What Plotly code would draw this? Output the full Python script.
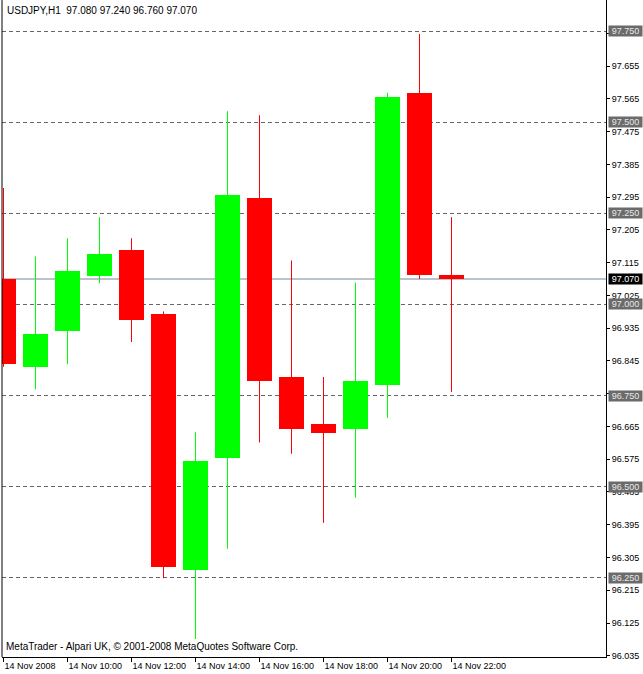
import plotly.graph_objects as go

# ---- data ----
times = ["08:00", "09:00", "10:00", "11:00", "12:00", "13:00", "14:00", "15:00",
         "16:00", "17:00", "18:00", "19:00", "20:00", "21:00", "22:00"]
opens = [97.071, 96.828, 96.928, 97.077, 97.151, 96.973, 96.270, 96.579,
         97.292, 96.801, 96.672, 96.659, 96.779, 97.582, 97.080]
highs = [97.320, 97.132, 97.182, 97.240, 97.182, 96.981, 96.649, 97.531,
         97.520, 97.121, 96.801, 97.060, 97.582, 97.743, 97.240]
lows = [96.829, 96.767, 96.836, 97.058, 96.897, 96.248, 96.081, 96.329,
        96.621, 96.590, 96.400, 96.469, 96.688, 97.070, 96.760]
closes = [96.837, 96.919, 97.091, 97.140, 96.958, 96.279, 96.571, 97.300,
          96.789, 96.659, 96.648, 96.790, 97.571, 97.080, 97.070]

xtick_pos = [0, 2, 4, 6, 8, 10, 12, 14]
xtick_text = ["14 Nov 2008", "14 Nov 10:00", "14 Nov 12:00", "14 Nov 14:00",
              "14 Nov 16:00", "14 Nov 18:00", "14 Nov 20:00", "14 Nov 22:00"]
ytick_vals = [97.745, 97.655, 97.565, 97.475, 97.385, 97.295, 97.205, 97.115,
              97.025, 96.935, 96.845, 96.755, 96.665, 96.575, 96.485, 96.395,
              96.305, 96.215, 96.125, 96.035]
levels = [97.75, 97.50, 97.25, 97.00, 96.75, 96.50, 96.25]
level_text = ["97.750", "97.500", "97.250", "97.000", "96.750", "96.500", "96.250"]
current_price = 97.070
title_text = "USDJPY,H1&nbsp;&nbsp;97.080 97.240 96.760 97.070"
footer_text = "MetaTrader - Alpari UK, © 2001-2008 MetaQuotes Software Corp."

GREEN = "#00FF00"
RED = "#FF0000"
FONT = "Liberation Sans"

x = list(range(len(times)))
up = [c >= o for o, c in zip(opens, closes)]

fig = go.Figure()

# wicks
for is_up, col in [(True, GREEN), (False, RED)]:
    wx, wy = [], []
    for i in x:
        if up[i] == is_up:
            wx += [i, i, None]
            wy += [lows[i], highs[i], None]
    fig.add_trace(go.Scatter(x=wx, y=wy, mode="lines",
                             line=dict(color=col, width=1), hoverinfo="skip"))

# bodies
for is_up, col in [(True, GREEN), (False, RED)]:
    bx = [i for i in x if up[i] == is_up]
    base = [min(opens[i], closes[i]) for i in bx]
    h = [max(abs(closes[i] - opens[i]), 0.006) for i in bx]
    fig.add_trace(go.Bar(x=bx, y=h, base=base, width=0.78,
                         marker=dict(color=col, line=dict(width=0))))

# level lines
for lv in levels:
    fig.add_shape(type="line", xref="paper", x0=0, x1=1, yref="y", y0=lv, y1=lv,
                  line=dict(color="#666666", width=1, dash="4px,3px"), layer="below")
fig.add_shape(type="line", xref="paper", x0=0, x1=1, yref="y",
              y0=current_price, y1=current_price,
              line=dict(color="#778899", width=1), layer="below")

# level labels on right axis
for lv, t in zip(levels, level_text):
    fig.add_annotation(x=1, xref="paper", y=lv, yref="y", text=t, showarrow=False,
                       xanchor="left", xshift=2, bgcolor="#6b6b6b",
                       width=33, height=10, align="center", valign="middle",
                       font=dict(family=FONT, size=9, color="#e8e8e8"),
                       borderpad=0)
fig.add_annotation(x=1, xref="paper", y=current_price, yref="y", text="97.070",
                   showarrow=False, xanchor="left", xshift=2, bgcolor="#000000",
                   width=33, height=10, align="center", valign="middle",
                   font=dict(family=FONT, size=9, color="#ffffff"), borderpad=0)

fig.add_annotation(x=0, xref="paper", y=1, yref="paper", text=title_text,
                   showarrow=False, xanchor="left", yanchor="top", xshift=3, yshift=-3,
                   font=dict(family=FONT, size=10, color="black"))
fig.add_annotation(x=0, xref="paper", y=0, yref="paper", text=footer_text,
                   showarrow=False, xanchor="left", yanchor="bottom", xshift=2, yshift=3,
                   font=dict(family=FONT, size=10, color="black"))

fig.update_layout(
    width=643, height=674,
    margin=dict(l=2, r=37, t=0, b=17, autoexpand=False),
    paper_bgcolor="white", plot_bgcolor="white",
    showlegend=False, barmode="overlay", bargap=0,
    xaxis=dict(range=[-0.046875, 18.828125], tickvals=xtick_pos, ticktext=xtick_text,
               showgrid=False, zeroline=False, showline=True, linecolor="black",
               linewidth=1, mirror=False, ticks="outside", ticklen=4,
               tickcolor="black", ticklabelposition="outside right", tickangle=0,
               automargin=False,
               tickfont=dict(family=FONT, size=9, color="black"), fixedrange=True),
    yaxis=dict(range=[96.0316, 97.8365], side="right", tickvals=ytick_vals,
               ticktext=[f"{v:.3f}" for v in ytick_vals], automargin=False,
               showgrid=False, zeroline=False, showline=True, linecolor="black",
               linewidth=1, ticks="outside", ticklen=3, tickcolor="black",
               tickfont=dict(family=FONT, size=9, color="black"), fixedrange=True),
)
# left border
fig.add_shape(type="line", xref="paper", x0=0, x1=0, yref="paper", y0=0, y1=1,
              line=dict(color="black", width=1))

fig.write_html("out.html", config={"displayModeBar": False},
               post_script="document.body.style.margin='0px';document.body.style.overflow='hidden';")
